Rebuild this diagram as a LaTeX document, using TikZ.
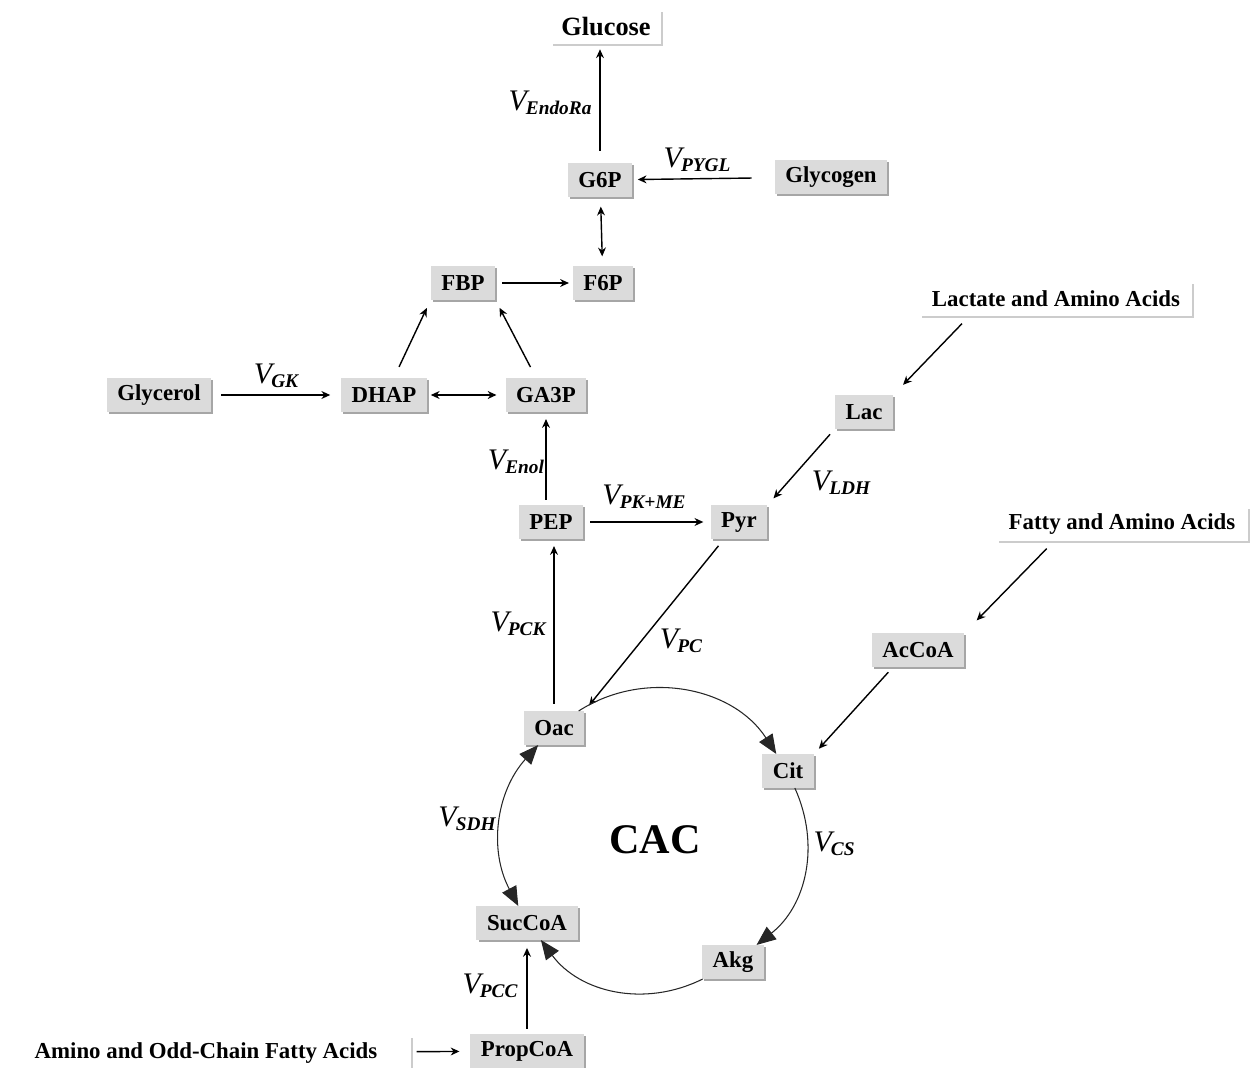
\documentclass[tikz,border=0pt]{standalone}
\usepackage{fontspec}
\setmainfont{Liberation Serif}
\usetikzlibrary{arrows.meta, shadows}

\newcommand{\flux}[1]{{\fontsize{17}{18}\selectfont\itshape V}\kern-0.5pt\raisebox{-0.55ex}{\fontsize{11}{12}\selectfont\bfseries\itshape #1}}

\tikzset{
  box/.style={font=\fontsize{13}{15}\selectfont\bfseries, inner xsep=6pt, inner ysep=0pt, minimum height=19pt},
  met/.style={box, fill=black!14, drop shadow={shadow xshift=1.2pt, shadow yshift=-1.2pt, fill=black!35, opacity=1}},
  src/.style={box, fill=white, inner xsep=7pt, drop shadow={shadow xshift=1.2pt, shadow yshift=-1.2pt, fill=black!20, opacity=1}},
  flow/.style={line width=0.8pt, -{Stealth[length=5pt,width=4.5pt]}, shorten <=6pt, shorten >=2pt},
  both/.style={flow, shorten <=2pt, {Stealth[length=5pt,width=4.5pt]}-{Stealth[length=5pt,width=4.5pt]}},
  cyc/.style={line width=0.6pt, black!85, -{Triangle[length=11pt,width=9pt]}},
}

\begin{document}
\begin{tikzpicture}[x=0.02cm, y=-0.02cm]
    \useasboundingbox (0,0) rectangle (1252,1068);

    % Define the metabolite pools
    \node[src, font=\fontsize{15}{17}\selectfont\bfseries, inner xsep=6pt] (glucose) at (606,27) {Glucose};
    \node[met] (g6p) at (600,180) {G6P};
    \node[met] (glycogen) at (831,177) {Glycogen};
    \node[met] (fbp) at (463,283) {FBP};
    \node[met] (f6p) at (603,283) {F6P};
    \node[met] (glycerol) at (159,395) {Glycerol};
    \node[met] (dhap) at (384,395) {DHAP};
    \node[met] (ga3p) at (546,395) {GA3P};
    \node[src] (lact) at (1056,299) {Lactate and Amino Acids};
    \node[met] (lac) at (864,412) {Lac};
    \node[met] (pep) at (551,522) {PEP};
    \node[met] (pyr) at (739,522) {Pyr};
    \node[src] (fatty) at (1122,524) {Fatty and Amino Acids};
    \node[met] (accoa) at (918,650) {AcCoA};
    \node[met] (oac) at (554,728) {Oac};
    \node[met] (cit) at (788,771) {Cit};
    \node[met] (succoa) at (527,923) {SucCoA};
    \node[met] (akg) at (733,962) {Akg};
    \node[met] (propcoa) at (527,1051) {PropCoA};
    \node[src, minimum width=8.2cm] (amino) at (206,1053) {Amino and Odd-Chain Fatty Acids};

    % Cycle name in the middle of the ring
    \node[font=\fontsize{24}{26}\selectfont\bfseries] (cac) at (655,840) {CAC};

    % Draw the fluxes of gluconeogenesis
    \draw[flow, shorten <=7pt, shorten >=3pt] (g6p.north) -- (g6p.north |- glucose.south);
    \draw[flow, shorten <=13pt, shorten >=3pt] (glycogen) -- (g6p);
    \draw[both, shorten <=5.5pt, shorten >=5.5pt] (g6p) -- (f6p);
    \draw[flow, shorten <=4pt] (fbp) -- (f6p);
    \draw[flow, shorten <=7pt, shorten >=5pt] (dhap.60) -- (fbp.south west);
    \draw[flow, shorten <=7pt, shorten >=5pt] (ga3p.120) -- (fbp.south east);
    \draw[flow, shorten <=5.5pt, shorten >=6pt] (glycerol) -- (dhap);
    \draw[both, shorten >=5pt] (dhap) -- (ga3p);
    \draw[flow, shorten <=3pt, shorten >=4pt] (pep.north -| ga3p.south) -- (ga3p.south);
    \draw[flow, shorten <=4pt, shorten >=4pt] (pep) -- (pyr);

    % Draw the inputs from lactate and fatty acids
    \draw[flow, shorten <=6pt, shorten >=8pt] ([xshift=1cm]lact.south west) -- (lac.north east);
    \draw[flow, shorten <=4pt, shorten >=5pt] (lac.south west) -- (pyr.north east);
    \draw[flow, shorten <=5pt, shorten >=4pt] ([xshift=-0.3cm]pyr.south) -- (oac.north east);
    \draw[flow, shorten <=6pt, shorten >=10pt] ([xshift=1.16cm]fatty.south west) -- (accoa.north east);
    \draw[flow, shorten <=4pt, shorten >=4pt] ([xshift=-0.5cm]accoa.south) -- (cit.north east);
    \draw[flow, shorten <=4pt, shorten >=4pt] (oac.north) -- (oac.north |- pep.south);
    \draw[flow, shorten <=3pt, shorten >=4.5pt] (propcoa.north) -- (succoa.south);
    \draw[flow, shorten <=3pt, shorten >=6pt] (amino) -- (propcoa);

    % Draw the ring of the cycle
    \draw[cyc] (oac) to[bend left=45] (cit);
    \draw[cyc] (cit) to[bend left=38] (akg);
    \draw[cyc] (akg) to[bend left=40] (succoa);
    \draw[cyc, {Triangle[length=11pt,width=9pt]}-{Triangle[length=11pt,width=9pt]}] (succoa) to[bend left=35] (oac);

    % Flux labels
    \node (vendora) at (550,103) {\flux{EndoRa}};
    \node (vpygl) at (697,160) {\flux{PYGL}};
    \node (vgk) at (276,376) {\flux{GK}};
    \node (venol) at (516,462) {\flux{Enol}};
    \node (vpkme) at (644,497) {\flux{PK+ME}};
    \node (vldh) at (841,483) {\flux{LDH}};
    \node (vpc) at (681,641) {\flux{PC}};
    \node (vpck) at (518,624) {\flux{PCK}};
    \node (vsdh) at (467,819) {\flux{SDH}};
    \node (vcs) at (834,844) {\flux{CS}};
    \node (vpcc) at (490,986) {\flux{PCC}};
\end{tikzpicture}
\end{document}
